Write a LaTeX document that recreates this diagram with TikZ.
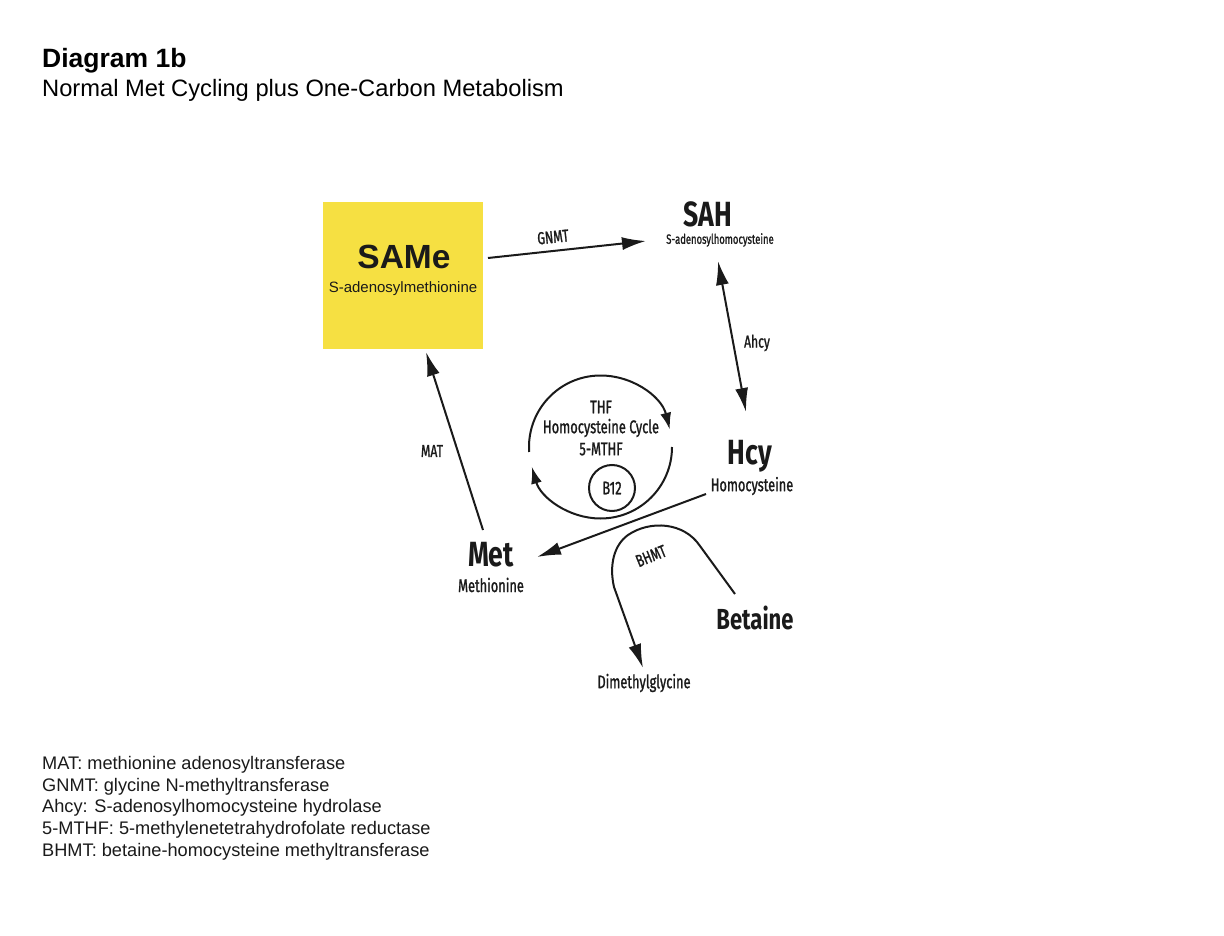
\documentclass[tikz,border=0pt]{standalone}
\usepackage{fontspec}
\setmainfont{Liberation Sans}
\newfontfamily\fut[FakeStretch=0.76]{Fira Sans}
\newfontfamily\futm[FakeStretch=0.7,FakeBold=1.2]{Fira Sans}
\usetikzlibrary{arrows.meta}
\definecolor{sameyellow}{RGB}{246,224,66}
\definecolor{ink}{RGB}{26,26,26}
\tikzset{
  conn/.style={draw=ink, line width=2pt, -{Latex[length=24pt,width=13pt]}},
  cycconn/.style={draw=ink, line width=2pt, -{Latex[length=17pt,width=11pt]}},
  biconn/.style={draw=ink, line width=2pt, {Latex[length=24pt,width=13pt]}-{Latex[length=24pt,width=13pt]}},
  big/.style={text=ink, font=\fut\bfseries\fontsize{35}{38}\selectfont, inner sep=0pt},
  sub/.style={text=ink, font=\futm\fontsize{18.3}{20}\selectfont, inner sep=0pt},
  enz/.style={text=ink, font=\futm\fontsize{17.3}{19}\selectfont, inner sep=0pt},
  cyctext/.style={text=ink, font=\futm\fontsize{18.4}{20}\selectfont, inner sep=0pt},
  legend/.style={text=ink, font=\fontsize{18.2}{21.7}\selectfont, anchor=base west, inner sep=0pt},
}
\begin{document}
\begin{tikzpicture}[x=1pt,y=-1pt]
\useasboundingbox (0,0) rectangle (1224,936);
% title
\node[anchor=base west, inner sep=0pt, font=\bfseries\fontsize{26.5}{30}\selectfont] (title) at (42,68) {Diagram 1b};
\node[anchor=base west, inner sep=0pt, font=\fontsize{23.7}{28}\selectfont] (subtitle) at (42,97) {Normal Met Cycling plus One-Carbon Metabolism};
% SAMe box
\node[fill=sameyellow, minimum width=160pt, minimum height=147pt, inner sep=0pt] (same) at (403,275.5) {};
\node[inner sep=0pt, text=ink, font=\bfseries\fontsize{33.5}{36}\selectfont, anchor=base] (sameT) at (404,269) {SAMe};
\node[inner sep=0pt, text=ink, font=\fontsize{15}{18}\selectfont, anchor=base] (sameS) at (403,292) {S-adenosylmethionine};
% SAH
\node[big] (sah) at (708,214) {SAH};
\node[text=ink, font=\futm\fontsize{13.5}{15}\selectfont, inner sep=0pt] (sahS) at (720,240) {S-adenosylhomocysteine};
% Hcy
\node[big] (hcy) at (750,456) {Hcy};
\node[sub] (hcyS) at (752,486) {Homocysteine};
% Met
\node[big] (met) at (491,555) {Met};
\node[sub] (metS) at (491,585) {Methionine};
% Betaine, DMG
\node[text=ink, font=\fut\bfseries\fontsize{29}{32}\selectfont, inner sep=0pt] (bet) at (755,618) {Betaine};
\node[text=ink, font=\futm\fontsize{18.4}{20}\selectfont, inner sep=0pt] (dmg) at (644,683) {Dimethylglycine};
% enzyme labels
\node[enz, rotate=6] (gnmt) at (553,237) {GNMT};
\node[enz] (ahcy) at (757,343) {Ahcy};
\node[enz] (mat) at (432,451) {MAT};
\node[enz, rotate=22] (bhmt) at (651,556) {BHMT};
% cycle
\coordinate (cyc) at (600.5,447);
\node[cyctext] (thf) at (601,407) {THF};
\node[cyctext] (hcc) at (601,428) {Homocysteine Cycle};
\node[cyctext] (mthf) at (601,449) {5-MTHF};
\node[draw=ink, line width=2pt, circle, minimum size=46pt, inner sep=0pt, text=ink, font=\futm\fontsize{18.4}{20}\selectfont] (b12) at (612,488) {B12};
\draw[cycconn] ([shift={(176:71.5)}]cyc) arc[start angle=176, end angle=346, radius=71.5];
\draw[cycconn] ([shift={(0:71.5)}]cyc) arc[start angle=0, end angle=164, radius=71.5];
% connector endpoints
\coordinate (gnmtA) at (488,258);
\coordinate (gnmtB) at (646,241);
\coordinate (ahcyA) at (718,261);
\coordinate (ahcyB) at (746,412);
\coordinate (matA) at (483,530);
\coordinate (matB) at (426,352);
\coordinate (remA) at (706,494);
\coordinate (remB) at (537,557);
\coordinate (bhA) at (735,594);
\coordinate (bhB) at (643,668);
% connectors
\draw[conn] (gnmtA) -- (gnmtB);
\draw[biconn] (ahcyA) -- (ahcyB);
\draw[conn] (matA) -- (matB);
\draw[conn] (remA) -- (remB);
\draw[conn] (bhA) -- (700,546) .. controls (684,522) and (650,520) .. (628,535) .. controls (614,545) and (609,565) .. (614,587) -- (bhB);
% legend
\node[legend] (l1) at (42,769) {MAT: methionine adenosyltransferase};
\node[legend] (l2) at (42,791) {GNMT: glycine N-methyltransferase};
\node[legend] (l3) at (42,812) {Ahcy: S-adenosylhomocysteine hydrolase};
\node[legend] (l4) at (42,834) {5-MTHF: 5-methylenetetrahydrofolate reductase};
\node[legend] (l5) at (42,856) {BHMT: betaine-homocysteine methyltransferase};
\end{tikzpicture}
\end{document}
